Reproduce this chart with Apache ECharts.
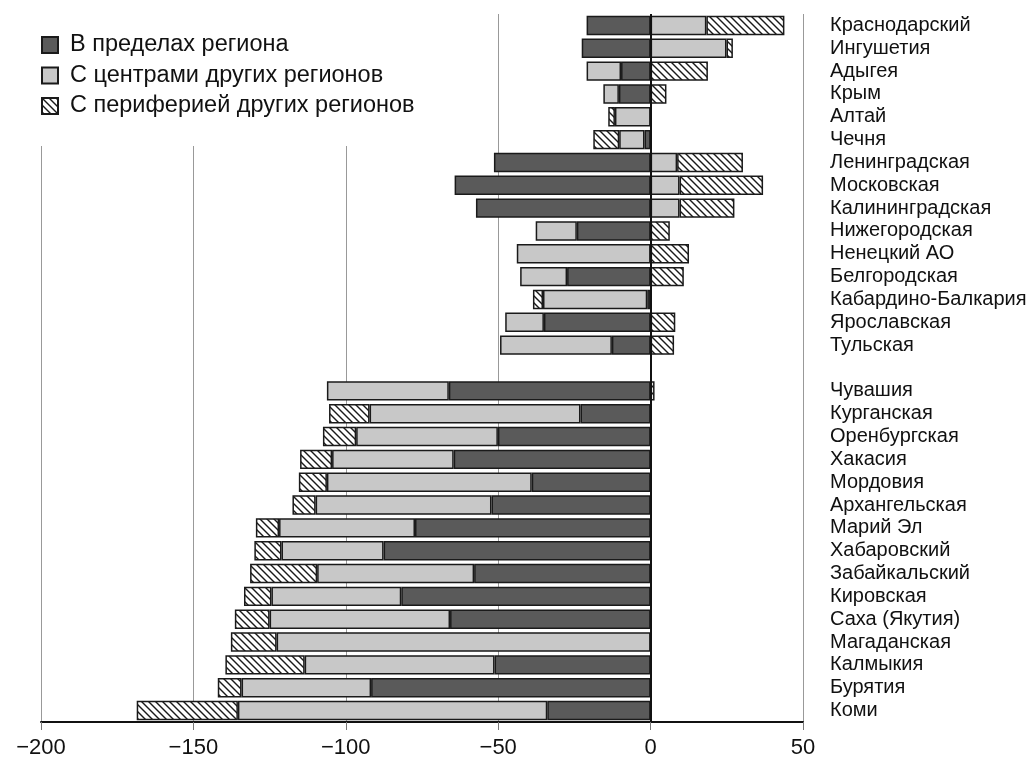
<!DOCTYPE html>
<html>
<head>
<meta charset="utf-8">
<script src="https://cdn.jsdelivr.net/npm/echarts@6/dist/echarts.min.js"></script>
<style>
html,body{margin:0;padding:0;background:#fff;}
#chart{width:1030px;height:760px;}
</style>
</head>
<body>
<div id="chart"></div>
<script>
const categories = ['Краснодарский','Ингушетия','Адыгея','Крым','Алтай','Чечня','Ленинградская','Московская','Калининградская','Нижегородская','Ненецкий АО','Белгородская','Кабардино-Балкария','Ярославская','Тульская','',
'Чувашия','Курганская','Оренбургская','Хакасия','Мордовия','Архангельская','Марий Эл','Хабаровский','Забайкальский','Кировская','Саха (Якутия)','Магаданская','Калмыкия','Бурятия','Коми'];

const withinRegion = [-21,-22.6,-9.7,-10.4,null,-2,-51.4,-64.3,-57.3,-24.2,null,-27.4,-1.1,-35,-12.7,null,
-66.2,-23,-50.1,-64.6,-39,-52.2,-77.3,-87.6,-57.9,-81.8,-65.8,null,-51.2,-91.7,-33.9];

const withCenters = [18.3,24.9,-11.3,-5.1,-11.7,-8.3,8.7,9.5,9.5,-13.5,-43.9,-15.4,-34.2,-12.7,-36.7,null,
-40,-69.2,-46.5,-39.9,-67.2,-57.7,-44.6,-33.5,-51.5,-42.6,-59.2,-122.7,-62.3,-42.5,-101.5];

const withPeriphery = [25.6,2.1,18.8,5.2,-2.2,-8.5,21.6,27.4,18,6.3,12.6,10.9,-3.3,8.1,7.7,null,
1.3,-13.3,-10.9,-10.5,-9.2,-7.6,-7.6,-8.9,-22,-9,-11.4,-15,-26,-7.8,-33.2];

const seriesNames = ['В пределах региона','С центрами других регионов','С периферией других регионов'];
const xTicks = [-200,-150,-100,-50,0,50];

function makeHatch(){
  const s = 7;
  const c = document.createElement('canvas');
  c.width = s; c.height = s;
  const g = c.getContext('2d');
  g.fillStyle = '#ffffff';
  g.fillRect(0,0,s,s);
  g.strokeStyle = '#1a1a1a';
  g.lineWidth = 1.4;
  for (const x0 of [-s,0,s]) {
    g.beginPath();
    g.moveTo(x0-1,-1);
    g.lineTo(x0+s+1,s+1);
    g.stroke();
  }
  return c;
}

const FONT = 'Liberation Sans, Arial, sans-serif';
const chart = echarts.init(document.getElementById('chart'), null, {renderer:'canvas'});
const border = {borderColor:'#1a1a1a', borderWidth:1.5};

chart.setOption({
  animation:false,
  backgroundColor:'#ffffff',
  textStyle:{fontFamily:FONT, color:'#111'},
  grid:{left:41, right:227, top:14, bottom:38, containLabel:false},
  legend:{
    orient:'vertical', left:20, top:13,
    padding:[20,30,28,21],
    backgroundColor:'#ffffff',
    itemWidth:16, itemHeight:16, itemGap:6.5,
    icon:'rect',
    textStyle:{fontSize:23.5, lineHeight:24, color:'#111', fontFamily:FONT, padding:[0,0,0,7]},
    data:seriesNames
  },
  xAxis:{
    type:'value', min:-200, max:50, interval:50,
    axisLine:{show:true, onZero:false, lineStyle:{color:'#111', width:2}},
    axisTick:{show:true, length:8, lineStyle:{color:'#777', width:1}},
    splitLine:{show:true, lineStyle:{color:'#999', width:1}},
    axisLabel:{fontSize:22, color:'#111', margin:15, fontFamily:FONT,
      formatter:function(v){ return xTicks.indexOf(v) >= 0 ? String(v).replace('-', '\u2212') : ''; }}
  },
  yAxis:{
    type:'category', data:categories, inverse:true, position:'right',
    axisLine:{show:false}, axisTick:{show:false}, splitLine:{show:false},
    axisLabel:{interval:0, fontSize:20, color:'#111', margin:27, align:'left', fontFamily:FONT}
  },
  series:[
    {name:seriesNames[0], type:'bar', stack:'t', data:withinRegion, barCategoryGap:'15%',
     itemStyle:Object.assign({color:'#5a5a5a'}, border),
     markLine:{silent:true, symbol:'none', label:{show:false},
       lineStyle:{color:'#111', width:2, type:'solid'}, data:[{xAxis:0}]}},
    {name:seriesNames[1], type:'bar', stack:'t', data:withCenters, barCategoryGap:'15%',
     itemStyle:Object.assign({color:'#c8c8c8'}, border)},
    {name:seriesNames[2], type:'bar', stack:'t', data:withPeriphery, barCategoryGap:'15%',
     itemStyle:Object.assign({color:{image:makeHatch(), repeat:'repeat'}}, border)}
  ]
});
</script>
</body>
</html>
